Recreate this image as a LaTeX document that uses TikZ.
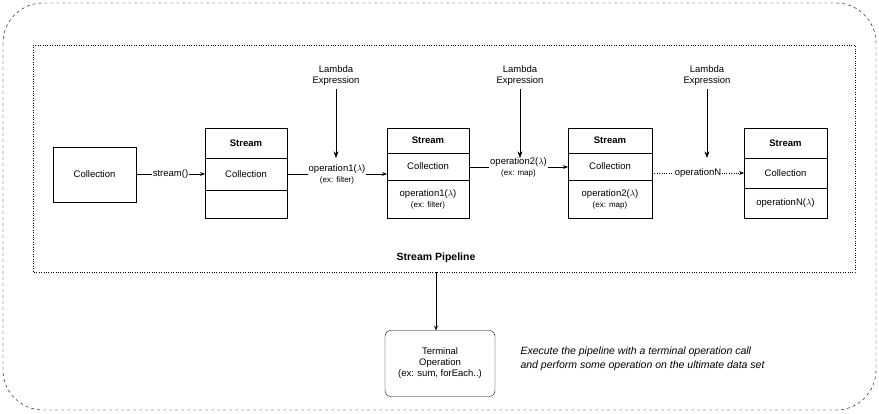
\documentclass[tikz,border=0pt]{standalone}
\usepackage{fontspec}
\setmainfont{Liberation Sans}
\usetikzlibrary{positioning, arrows.meta}

\begin{document}
\begin{tikzpicture}[x=1pt,y=-1pt,>=Stealth,font=\fontsize{9.5}{11}\selectfont]
	\tikzstyle{box}=[draw=black,thick]
	\tikzstyle{lbl}=[fill=white,inner sep=1pt,align=center]
	\useasboundingbox (0,0) rectangle (879,413);
	\draw[dashed,rounded corners=40] (3,3) rectangle (876,410);
	\draw[dotted] (33,45) rectangle (855,272);
	% collection
	\draw[box] (53,147) rectangle (136,202);
	\node(coll) at (94.5,174.5) {Collection};
	\coordinate(collR) at (136,174);
	% stream boxes: x1, x2, divider1, divider2
	\foreach \n/\xa/\xb/\da/\db in {1/205/287/158/190, 2/387/469/153/180, 3/568/652/153/180, 4/744/827/158/188}{
		\draw[box] (\xa,128) rectangle (\xb,218);
		\draw (\xa,\da) -- (\xb,\da);
		\draw (\xa,\db) -- (\xb,\db);
		\node[font=\fontsize{9.5}{11}\bfseries\selectfont](t\n) at ({(\xa+\xb)/2},{(128+\da)/2}) {Stream};
		\node(c\n) at ({(\xa+\xb)/2},{(\da+\db)/2}) {Collection};
	}
	\coordinate(l1) at (205,174);
	\coordinate(r1) at (287,174); \coordinate(l2) at (387,174);
	\coordinate(r2) at (469,167); \coordinate(l3) at (568,167);
	\coordinate(r3) at (652,173); \coordinate(l4) at (744,173);
	\node[align=center](o2) at (428,199) {operation1($\lambda$)\\{\fontsize{8}{9}\selectfont(ex: filter)}};
	\node[align=center](o3) at (610,199) {operation2($\lambda$)\\{\fontsize{8}{9}\selectfont(ex: map)}};
	\node(o4) at (785.5,203) {operationN($\lambda$)};
	% connectors
	\draw[->] (collR) -- node[lbl]{stream()} (l1);
	\draw[->] (r1) -- node[lbl]{operation1($\lambda$)\\{\fontsize{8}{9}\selectfont(ex: filter)}} (l2);
	\draw[->] (r2) -- node[lbl]{operation2($\lambda$)\\{\fontsize{8}{9}\selectfont(ex: map)}} (l3);
	\draw[->,dotted] (r3) -- node[lbl]{operationN} (l4);
	% lambdas
	\foreach \n/\x in {1/336,2/520,3/707}{
		\node[align=center](lam\n) at (\x,76) {Lambda\\Expression};
		\coordinate(lamE\n) at (\x,158);
		\draw[->,thick] (lam\n) -- (lamE\n);
	}
	\node[font=\fontsize{10.5}{12}\bfseries\selectfont](pipe) at (436,258) {Stream Pipeline};
	\coordinate(pipeB) at (436,272);
	\node[draw,rounded corners=6,align=center,minimum width=110,minimum height=66](term) at (440,363.5) {Terminal\\Operation\\(ex: sum, forEach..)};
	\draw[->] (pipeB) -- (436,330.5);
	\node[anchor=west,align=left,font=\fontsize{10.5}{14}\itshape\selectfont](exec) at (517,359) {Execute the pipeline with a terminal operation call\\and perform some operation on the ultimate data set};
\end{tikzpicture}
\end{document}
